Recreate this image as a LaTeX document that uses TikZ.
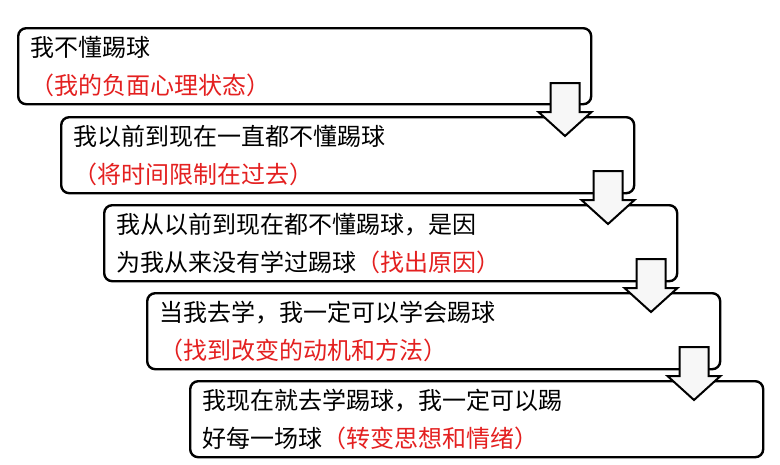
\documentclass[tikz,border=0pt]{standalone}
\usepackage{fontspec}
\setmainfont{Noto Sans CJK SC}
\begin{document}
\begin{tikzpicture}[x=1pt,y=-1pt,
  box/.style={draw=black, line width=2.4pt, rounded corners=8pt, fill=white, anchor=north west,
    minimum width=573pt, minimum height=76pt, inner xsep=12pt, inner ysep=0pt,
    text width=549pt, align=left, font=\fontsize{24}{38}\selectfont},
  blk/.style={draw=black, line width=2pt, fill=gray!6, line join=miter}]
\definecolor{tred}{RGB}{228,32,32}
\useasboundingbox (0,0) rectangle (780,464);
\node[box] (b1) at (17,27) {我不懂踢球\\\textcolor{tred}{（我的负面心理状态）}};
\node[box] (b2) at (60,116) {我以前到现在一直都不懂踢球\\\textcolor{tred}{（将时间限制在过去）}};
\node[box] (b3) at (103,204) {我从以前到现在都不懂踢球，是因\\为我从来没有学过踢球\textcolor{tred}{（找出原因）}};
\node[box] (b4) at (146,292) {当我去学，我一定可以学会踢球\\\textcolor{tred}{（找到改变的动机和方法）}};
\node[box] (b5) at (189,380) {我现在就去学踢球，我一定可以踢\\好每一场球\textcolor{tred}{（转变思想和情绪）}};
\foreach \i in {0,1,2,3}{
  \coordinate (a\i) at (565+43*\i, 83+88*\i);
  \draw[blk] (a\i) ++(-14.5,0) -- ++(29,0) -- ++(0,29) -- ++(12,0) -- ++(-26.5,24) -- ++(-26.5,-24) -- ++(12,0) -- cycle;
}
\end{tikzpicture}
\end{document}
